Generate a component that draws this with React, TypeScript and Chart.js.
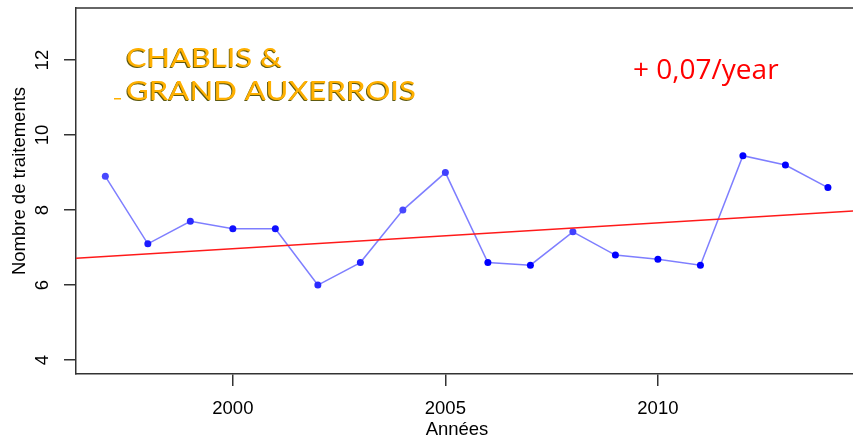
import React, { useEffect, useRef } from "react";
import { Chart, registerables } from "chart.js";

Chart.register(...registerables);

const years = [1997, 1998, 1999, 2000, 2001, 2002, 2003, 2004, 2005, 2006, 2007, 2008, 2009, 2010, 2011, 2012, 2013, 2014];
const treatments = [8.9, 7.1, 7.7, 7.5, 7.5, 6.0, 6.6, 8.0, 9.0, 6.6, 6.53, 7.42, 6.8, 6.69, 6.53, 9.45, 9.2, 8.6];
const pointColors = ["#4848ff", "#1a1aff", "#2a2aff", "#1010ff", "#1010ff", "#2a2aff", "#2020ff", "#4848ff", "#4040ff", "#0000ff", "#0000ff", "#4040ff", "#0000ff", "#0000ff", "#0000ff", "#0000ff", "#0000ff", "#0000ff"];
const trendYears = [1996, 2015];
const trendValues = [6.69, 8.0];
const xTicks = [2000, 2005, 2010];
const yTicks = [4, 6, 8, 10, 12];
const titleLines = ["CHABLIS &", "GRAND AUXERROIS"];
const slopeLabel = "+ 0,07/year";
const xTitle = "Années";
const yTitle = "Nombre de traitements";

const AXIS_FONT = '18.5px "Liberation Sans", Arial, sans-serif';

const overlayPlugin = {
  id: "overlay",
  afterDraw(chart: any) {
    const { ctx, chartArea, scales } = chart;
    const ys = scales.y;
    ctx.save();
    // top frame line
    ctx.strokeStyle = "#333";
    ctx.lineWidth = 1.5;
    ctx.beginPath();
    ctx.moveTo(chartArea.left, chartArea.top);
    ctx.lineTo(chartArea.right + 10, chartArea.top);
    ctx.stroke();

    // rotated y tick labels
    ctx.fillStyle = "#000";
    ctx.font = AXIS_FONT;
    ctx.textAlign = "center";
    ctx.textBaseline = "middle";
    yTicks.forEach((v) => {
      const py = ys.getPixelForValue(v);
      ctx.save();
      ctx.translate(43, py);
      ctx.rotate(-Math.PI / 2);
      ctx.fillText(String(v), 0, 0);
      ctx.restore();
    });
    // y title
    ctx.save();
    ctx.translate(20, 181);
    ctx.rotate(-Math.PI / 2);
    ctx.fillText(yTitle, 0, 0);
    ctx.restore();
    // x title
    ctx.fillText(xTitle, 457, 430);

    // CHABLIS title
    ctx.textAlign = "left";
    ctx.textBaseline = "alphabetic";
    ctx.font = '27.5px Lato, "Open Sans", sans-serif';
    const lines: [string, number, number][] = [[titleLines[0], 67, 156], [titleLines[1], 100, 290]];
    lines.forEach(([t, by, targetW]) => {
      const w = ctx.measureText(t).width;
      const sx = targetW / w;
      ctx.save();
      ctx.translate(126, by);
      ctx.scale(sx, 1);
      ctx.fillStyle = "#5f5a10";
      ctx.fillText(t, -0.8, 0.8);
      ctx.fillStyle = "#ffb000";
      ctx.fillText(t, 0, 0);
      ctx.restore();
    });
    ctx.fillStyle = "#ffb000";
    ctx.fillRect(114, 98, 7, 1.5);

    // slope label
    ctx.fillStyle = "#ff0000";
    ctx.font = '28px "Open Sans", sans-serif';
    ctx.fillText(slopeLabel, 633, 79);
    ctx.restore();
  },
};

export default function App() {
  const ref = useRef<HTMLCanvasElement | null>(null);
  useEffect(() => {
    if (!ref.current) return;
    const chart = new Chart(ref.current, {
      type: "line",
      data: {
        datasets: [
          {
            label: "trend",
            data: trendYears.map((x, i) => ({ x, y: trendValues[i] })),
            borderColor: "#ff1a1a",
            borderWidth: 1.5,
            pointRadius: 0,
            fill: false,
          },
          {
            label: "traitements",
            data: years.map((x, i) => ({ x, y: treatments[i] })),
            borderColor: "rgba(40,40,255,0.6)",
            borderWidth: 1.5,
            pointRadius: 3.5,
            pointBorderWidth: 0,
            pointBackgroundColor: pointColors,
            pointBorderColor: pointColors,
            fill: false,
            tension: 0,
          },
        ],
      },
      options: {
        responsive: false,
        animation: false,
        devicePixelRatio: 1,
        layout: { autoPadding: false, padding: { left: 0, top: 8, right: 0, bottom: 0 } },
        plugins: { legend: { display: false }, tooltip: { enabled: false }, title: { display: false } },
        scales: {
          x: {
            type: "linear",
            min: 1996.31,
            max: 2014.59,
            afterBuildTicks: (s: any) => {
              s.ticks = xTicks.map((v) => ({ value: v }));
            },
            afterFit: (s: any) => {
              s.height = 70;
            },
            grid: { display: true, drawOnChartArea: false, drawTicks: true, tickLength: 12, color: "#333", lineWidth: 1.5 },
            border: { display: true, color: "#333", width: 1.5 },
            ticks: {
              color: "#000",
              font: { family: '"Liberation Sans", Arial, sans-serif', size: 18.5 },
              padding: 12,
              maxRotation: 0,
              callback: (v: any) => String(v),
            },
          },
          y: {
            type: "linear",
            min: 3.627,
            max: 13.39,
            afterBuildTicks: (s: any) => {
              s.ticks = yTicks.map((v) => ({ value: v }));
            },
            afterFit: (s: any) => {
              s.width = 76;
            },
            grid: { display: true, drawOnChartArea: false, drawTicks: true, tickLength: 12, color: "#333", lineWidth: 1.5 },
            border: { display: true, color: "#333", width: 1.5 },
            ticks: { display: false },
          },
        },
      },
      plugins: [overlayPlugin],
    });
    return () => chart.destroy();
  }, []);
  return (
    <div style={{ position: "absolute", left: 0, top: 0, width: 853, height: 444, background: "#fff", overflow: "hidden" }}>
      <canvas ref={ref} width={853} height={444} style={{ width: 853, height: 444, display: "block" }} />
    </div>
  );
}
